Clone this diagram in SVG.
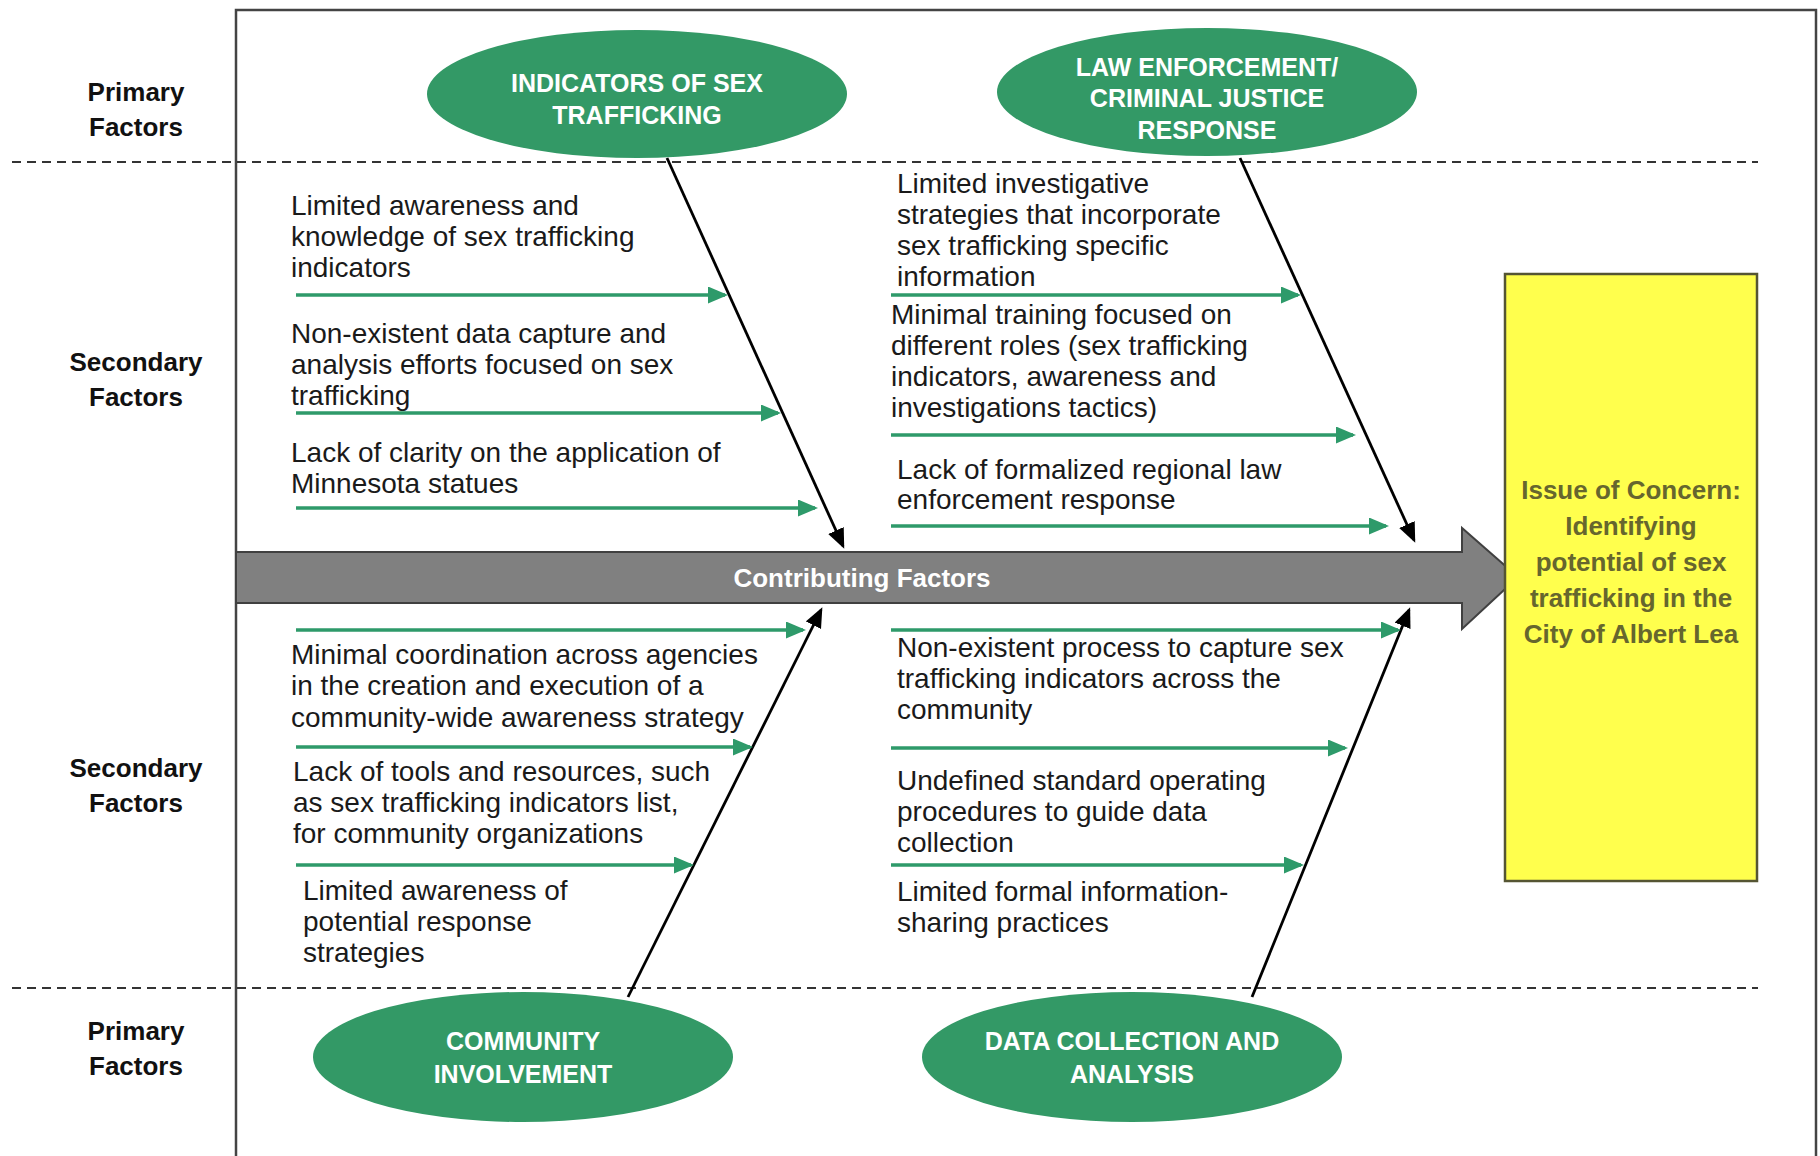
<svg xmlns="http://www.w3.org/2000/svg" width="1820" height="1156" viewBox="0 0 1820 1156">
<style>
.lbl{font-family:"Liberation Sans",Arial,sans-serif;font-weight:bold;font-size:26px;fill:#111;text-anchor:middle}
.body{font-family:"Liberation Sans",Arial,sans-serif;font-size:28px;fill:#1a1a1a}
.ell{fill:#339966}
.etxt{font-family:"Liberation Sans",Arial,sans-serif;font-weight:bold;font-size:25px;fill:#fff;text-anchor:middle}
.dash{stroke:#333;stroke-width:2;stroke-dasharray:9 6;fill:none}
.garr{stroke:#2e9a6a;stroke-width:3.5;fill:none;marker-end:url(#gh)}
.barr{stroke:#000;stroke-width:2.8;fill:none;marker-end:url(#bh)}
.issue{font-family:"Liberation Sans",Arial,sans-serif;font-weight:bold;font-size:26px;fill:#66662e;text-anchor:middle}
</style>
<defs>
<marker id="gh" markerUnits="userSpaceOnUse" markerWidth="22" markerHeight="18" refX="17" refY="8.5" orient="auto">
<path d="M0,0 L20,8.5 L0,17 z" fill="#2e9a6a"/>
</marker>
<marker id="bh" markerUnits="userSpaceOnUse" markerWidth="22" markerHeight="18" refX="17" refY="8.5" orient="auto">
<path d="M0,0 L20,8.5 L0,17 z" fill="#000"/>
</marker>
</defs>
<rect width="1820" height="1156" fill="#fff"/>
<rect id="frame" x="236" y="10" width="1580" height="1170" fill="none" stroke="#444" stroke-width="2.5"/>
<line class="dash" x1="12" y1="162" x2="1758" y2="162"/>
<line class="dash" x1="12" y1="988" x2="1758" y2="988"/>

<g id="row-labels">
<text class="lbl" x="136" y="101">Primary</text>
<text class="lbl" x="136" y="136">Factors</text>
<text class="lbl" x="136" y="371">Secondary</text>
<text class="lbl" x="136" y="406">Factors</text>
<text class="lbl" x="136" y="777">Secondary</text>
<text class="lbl" x="136" y="812">Factors</text>
<text class="lbl" x="136" y="1040">Primary</text>
<text class="lbl" x="136" y="1075">Factors</text>
</g>

<g id="spine">
<polygon points="236,552 1462,552 1462,528 1518,577 1462,629 1462,603 236,603" fill="#808080" stroke="#404040" stroke-width="2"/>
<text x="862" y="587" font-family="Liberation Sans, Arial, sans-serif" font-weight="bold" font-size="26" fill="#fff" text-anchor="middle">Contributing Factors</text>
</g>

<g id="issue">
<rect x="1505" y="274" width="252" height="607" fill="#ffff4d" stroke="#555533" stroke-width="2.5"/>
<text class="issue" x="1631" y="499">Issue of Concern:</text>
<text class="issue" x="1631" y="535">Identifying</text>
<text class="issue" x="1631" y="571">potential of sex</text>
<text class="issue" x="1631" y="607">trafficking in the</text>
<text class="issue" x="1631" y="643">City of Albert Lea</text>
</g>

<g id="node-indicators">
<ellipse class="ell" cx="637" cy="94" rx="210" ry="64"/>
<text class="etxt" x="637" y="92">INDICATORS OF SEX</text>
<text class="etxt" x="637" y="124">TRAFFICKING</text>
</g>
<g id="node-law">
<ellipse class="ell" cx="1207" cy="92" rx="210" ry="64"/>
<text class="etxt" x="1207" y="76">LAW ENFORCEMENT/</text>
<text class="etxt" x="1207" y="107">CRIMINAL JUSTICE</text>
<text class="etxt" x="1207" y="139">RESPONSE</text>
</g>
<g id="node-community">
<ellipse class="ell" cx="523" cy="1057" rx="210" ry="65"/>
<text class="etxt" x="523" y="1050">COMMUNITY</text>
<text class="etxt" x="523" y="1083">INVOLVEMENT</text>
</g>
<g id="node-data">
<ellipse class="ell" cx="1132" cy="1057" rx="210" ry="65"/>
<text class="etxt" x="1132" y="1050">DATA COLLECTION AND</text>
<text class="etxt" x="1132" y="1083">ANALYSIS</text>
</g>

<g id="connectors">
<line class="barr" x1="667" y1="158" x2="843" y2="546"/>
<line class="barr" x1="1240" y1="158" x2="1414" y2="540"/>
<line class="barr" x1="628" y1="997" x2="821" y2="610"/>
<line class="barr" x1="1252" y1="997" x2="1409" y2="610"/>
<line class="garr" x1="296" y1="295" x2="725" y2="295"/>
<line class="garr" x1="296" y1="413" x2="778" y2="413"/>
<line class="garr" x1="296" y1="508" x2="815" y2="508"/>
<line class="garr" x1="891" y1="295" x2="1298" y2="295"/>
<line class="garr" x1="891" y1="435" x2="1353" y2="435"/>
<line class="garr" x1="891" y1="526" x2="1386" y2="526"/>
<line class="garr" x1="296" y1="630" x2="803" y2="630"/>
<line class="garr" x1="296" y1="747" x2="750" y2="747"/>
<line class="garr" x1="296" y1="865" x2="691" y2="865"/>
<line class="garr" x1="891" y1="630" x2="1398" y2="630"/>
<line class="garr" x1="891" y1="748" x2="1345" y2="748"/>
<line class="garr" x1="891" y1="865" x2="1301" y2="865"/>
</g>

<g id="cause-texts">
<text class="body" x="291" y="215">Limited awareness and</text>
<text class="body" x="291" y="246">knowledge of sex trafficking</text>
<text class="body" x="291" y="277">indicators</text>

<text class="body" x="291" y="343">Non-existent data capture and</text>
<text class="body" x="291" y="374">analysis efforts focused on sex</text>
<text class="body" x="291" y="405">trafficking</text>

<text class="body" x="291" y="462">Lack of clarity on the application of</text>
<text class="body" x="291" y="493">Minnesota statues</text>

<text class="body" x="897" y="193">Limited investigative</text>
<text class="body" x="897" y="224">strategies that incorporate</text>
<text class="body" x="897" y="255">sex trafficking specific</text>
<text class="body" x="897" y="286">information</text>

<text class="body" x="891" y="324">Minimal training focused on</text>
<text class="body" x="891" y="355">different roles (sex trafficking</text>
<text class="body" x="891" y="386">indicators, awareness and</text>
<text class="body" x="891" y="417">investigations tactics)</text>

<text class="body" x="897" y="479">Lack of formalized regional law</text>
<text class="body" x="897" y="509">enforcement response</text>

<text class="body" x="291" y="664">Minimal coordination across agencies</text>
<text class="body" x="291" y="695">in the creation and execution of a</text>
<text class="body" x="291" y="727">community-wide awareness strategy</text>

<text class="body" x="293" y="781">Lack of tools and resources, such</text>
<text class="body" x="293" y="812">as sex trafficking indicators list,</text>
<text class="body" x="293" y="843">for community organizations</text>

<text class="body" x="303" y="900">Limited awareness of</text>
<text class="body" x="303" y="931">potential response</text>
<text class="body" x="303" y="962">strategies</text>

<text class="body" x="897" y="657">Non-existent process to capture sex</text>
<text class="body" x="897" y="688">trafficking indicators across the</text>
<text class="body" x="897" y="719">community</text>

<text class="body" x="897" y="790">Undefined standard operating</text>
<text class="body" x="897" y="821">procedures to guide data</text>
<text class="body" x="897" y="852">collection</text>

<text class="body" x="897" y="901">Limited formal information-</text>
<text class="body" x="897" y="932">sharing practices</text>
</g>
</svg>
